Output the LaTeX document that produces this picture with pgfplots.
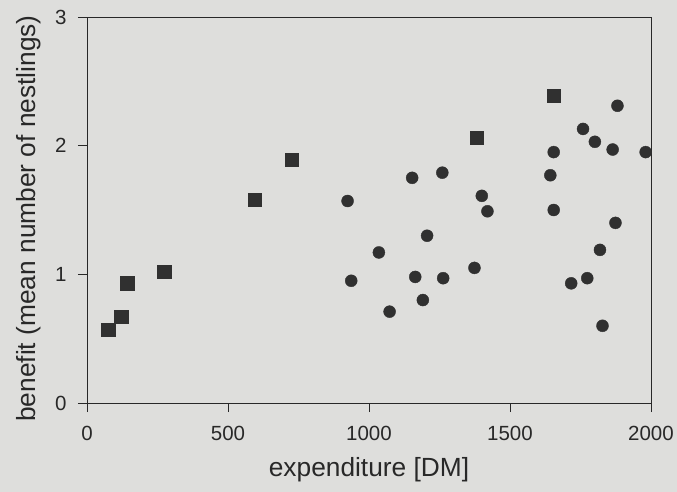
\documentclass[border=0pt]{standalone}
\usepackage{fontspec}
\setmainfont{Liberation Sans}
\usepackage{pgfplots}
\pgfplotsset{compat=1.18}
\usetikzlibrary{backgrounds}
\definecolor{bgcol}{RGB}{222,222,220}
\definecolor{ink}{RGB}{40,40,40}
\definecolor{mk}{RGB}{48,48,48}
\begin{document}
\begin{tikzpicture}
\begin{axis}[
 name=ax,
 scale only axis, width=564pt, height=386pt,
 xmin=0,xmax=2000,ymin=0,ymax=3,
 xtick={0,500,1000,1500,2000}, ytick={0,1,2,3},
 xtick pos=bottom, ytick pos=left, tick align=outside,
 major tick length=9pt,
 axis line style={ink, line width=0.9pt},
 tick style={ink, line width=0.9pt},
 /pgf/number format/assume math mode=true,
 /pgf/number format/set thousands separator={},
 ticklabel style={font=\fontsize{20.5}{23}\selectfont, text=ink},
 xticklabel style={yshift=-11pt},
 yticklabel style={xshift=-8pt},
 xlabel={expenditure [DM]}, ylabel={benefit (mean number of nestlings)},
 label style={font=\fontsize{26.3}{30}\selectfont, text=ink},
 xlabel style={at={(axis description cs:0.5,-0.1917)}, anchor=base},
 ylabel style={at={(axis description cs:-0.103,0.478)}, anchor=center},
 clip=false,
]
\addplot[only marks, mark=square*, mark size=6.75pt, mark options={fill=mk, draw=mk}] coordinates {
(76,0.57) (122,0.67) (142,0.93) (274,1.02) (594,1.58) (725,1.89) (1382,2.06) (1655,2.39)
};
\addplot[only marks, mark=*, mark size=6pt, mark options={fill=mk, draw=mk}] coordinates {
(1881,2.31) (1759,2.13) (1801,2.03) (1864,1.97) (1981,1.95) (1655,1.95) (1643,1.77)
(1153,1.75) (1260,1.79) (924,1.57) (1400,1.61) (1420,1.49) (1655,1.50) (1874,1.40)
(1206,1.30) (1035,1.17) (1819,1.19) (937,0.95) (1164,0.98) (1263,0.97) (1374,1.05)
(1073,0.71) (1191,0.80) (1717,0.93) (1774,0.97) (1828,0.60)
};
\end{axis}
\begin{pgfonlayer}{background}
\fill[bgcol] ([xshift=-87pt,yshift=-89pt]ax.south west) rectangle ([xshift=26pt,yshift=17pt]ax.north east);
\end{pgfonlayer}
\pgfresetboundingbox
\path[use as bounding box] ([xshift=-87pt,yshift=-89pt]ax.south west) rectangle ([xshift=26pt,yshift=17pt]ax.north east);
\end{tikzpicture}
\end{document}
